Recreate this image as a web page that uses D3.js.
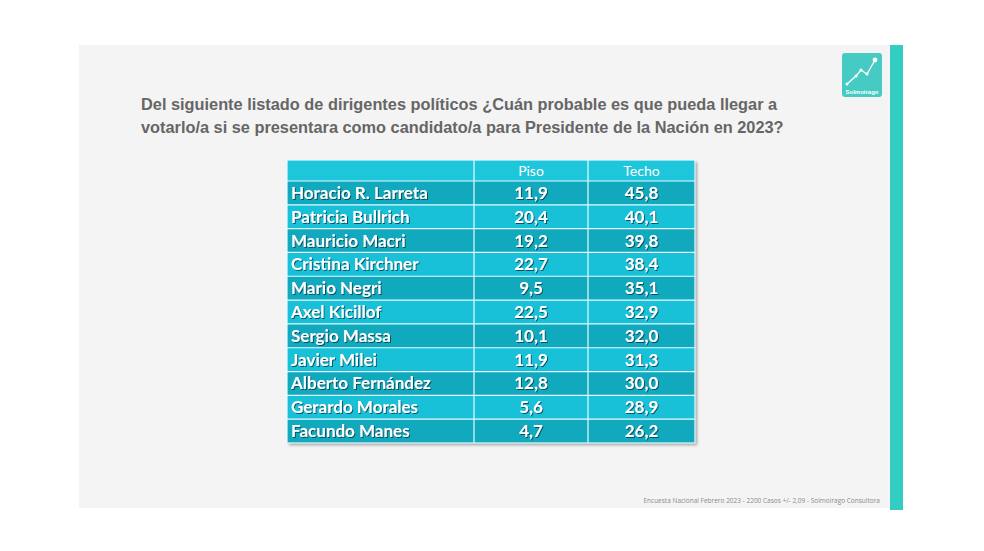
<!DOCTYPE html>
<html><head><meta charset="utf-8">
<script src="https://cdn.jsdelivr.net/npm/d3@7"></script>
<style>html,body{margin:0;padding:0;background:#fff;}svg{display:block;}</style>
</head><body>
<svg id="c" width="984" height="551"></svg>
<script>
const candidates = ["Horacio R. Larreta","Patricia Bullrich","Mauricio Macri","Cristina Kirchner","Mario Negri","Axel Kicillof","Sergio Massa","Javier Milei","Alberto Fernández","Gerardo Morales","Facundo Manes"];
const piso = [11.9,20.4,19.2,22.7,9.5,22.5,10.1,11.9,12.8,5.6,4.7];
const techo = [45.8,40.1,39.8,38.4,35.1,32.9,32.0,31.3,30.0,28.9,26.2];
const columns = ["Piso","Techo"];
const titleLines = ["Del siguiente listado de dirigentes políticos ¿Cuán probable es que pueda llegar a","votarlo/a si se presentara como candidato/a para Presidente de la Nación en 2023?"];
const footer = "Encuesta Nacional Febrero 2023 - 2200 Casos +/- 2,09  - Solmoirago Consultora";

const svg = d3.select("#c");
const fmt = v => d3.format(".1f")(v).replace(".", ",");

// slide panel
svg.append("rect").attr("x",79).attr("y",45).attr("width",812).attr("height",463).attr("fill","#f4f4f4");
svg.append("rect").attr("x",890).attr("y",45).attr("width",13).attr("height",465).attr("fill","#33cdc4");

// logo
const lg = svg.append("g");
lg.append("rect").attr("x",842).attr("y",53).attr("width",40).attr("height",44).attr("rx",3).attr("fill","#45cbc3");
const lpts = [[847,84],[856,76],[861,70],[867,74],[875,60]];
lg.append("path").attr("d",d3.line()(lpts)).attr("fill","none").attr("stroke","#fff").attr("stroke-width",1.3);
lg.selectAll("circle").data(lpts).join("circle").attr("cx",d=>d[0]).attr("cy",d=>d[1]).attr("r",(d,i)=>i===4?2.4:1.5).attr("fill","#fff");
lg.append("text").attr("x",862).attr("y",94).attr("text-anchor","middle").attr("font-family","Liberation Sans, Arial").attr("font-weight","bold").attr("font-size",6).attr("fill","#fff").text("Solmoirago");

// title (slightly condensed like the original)
svg.append("g").attr("transform","translate(141,0) scale(0.95,1)")
  .selectAll("text").data(titleLines).join("text")
  .attr("x",0).attr("y",(d,i)=>110+i*23)
  .attr("font-family","Liberation Sans, Arial").attr("font-weight","bold").attr("font-size",17.2)
  .attr("fill","#666666").text(d=>d);

// table
const tx0 = 287, tx1 = 695, ty0 = 160, headerH = 21, ty1 = 443;
const colEdges = [tx0, 474, 588, tx1];
const y = d3.scaleBand().domain(candidates).range([ty0+headerH, ty1]).padding(0);
const defs = svg.append("defs");
const f = defs.append("filter").attr("id","sh").attr("x","-5%").attr("y","-5%").attr("width","110%").attr("height","115%");
f.append("feDropShadow").attr("dx",2).attr("dy",2).attr("stdDeviation",1.5).attr("flood-color","#000").attr("flood-opacity",0.35);
const tf = defs.append("filter").attr("id","ts").attr("x","-10%").attr("y","-20%").attr("width","120%").attr("height","150%");
tf.append("feDropShadow").attr("dx",1).attr("dy",1).attr("stdDeviation",0.6).attr("flood-color","#003040").attr("flood-opacity",0.75);

const tg = svg.append("g");
tg.append("rect").attr("x",tx0).attr("y",ty0).attr("width",tx1-tx0).attr("height",ty1-ty0).attr("fill","#1cc4da").attr("filter","url(#sh)");
tg.append("rect").attr("x",tx0).attr("y",ty0).attr("width",tx1-tx0).attr("height",headerH).attr("fill","#1ec6dc");
tg.selectAll("rect.row").data(candidates).join("rect").attr("class","row")
  .attr("x",tx0).attr("y",d=>y(d)).attr("width",tx1-tx0).attr("height",y.bandwidth())
  .attr("fill",(d,i)=>i%2===0?"#10a9be":"#19c1d8");
// grid lines
tg.selectAll("line.h").data(candidates).join("line").attr("class","h")
  .attr("x1",tx0).attr("x2",tx1).attr("y1",d=>y(d)).attr("y2",d=>y(d)).attr("stroke","#e6fbff").attr("stroke-width",1.2);
tg.selectAll("line.v").data(colEdges.slice(1,3)).join("line").attr("class","v")
  .attr("x1",d=>d).attr("x2",d=>d).attr("y1",ty0).attr("y2",ty1).attr("stroke","#e6fbff").attr("stroke-width",1.2);
tg.append("rect").attr("x",tx0).attr("y",ty0).attr("width",tx1-tx0).attr("height",ty1-ty0).attr("fill","none").attr("stroke","#e6fbff").attr("stroke-width",1.2);

const font = "Lato, Open Sans, sans-serif";
// header text
tg.selectAll("text.hd").data(columns).join("text").attr("class","hd")
  .attr("x",(d,i)=>(colEdges[i+1]+colEdges[i+2])/2).attr("y",ty0+headerH/2+5)
  .attr("text-anchor","middle").attr("font-family",font).attr("font-size",14)
  .attr("fill","#fff").text(d=>d);

tg.selectAll("text.nm").data(candidates).join("text").attr("class","nm")
  .attr("x",291).attr("y",d=>y(d)+y.bandwidth()/2+6)
  .attr("font-family",font).attr("font-weight","bold").attr("font-size",17)
  .attr("fill","#fff").attr("filter","url(#ts)").text(d=>d);
tg.selectAll("text.ps").data(piso).join("text").attr("class","ps")
  .attr("x",(colEdges[1]+colEdges[2])/2).attr("y",(d,i)=>y(candidates[i])+y.bandwidth()/2+6)
  .attr("text-anchor","middle").attr("font-family",font).attr("font-weight","bold").attr("font-size",17)
  .attr("fill","#fff").attr("filter","url(#ts)").text(d=>fmt(d));
tg.selectAll("text.tc").data(techo).join("text").attr("class","tc")
  .attr("x",(colEdges[2]+colEdges[3])/2).attr("y",(d,i)=>y(candidates[i])+y.bandwidth()/2+6)
  .attr("text-anchor","middle").attr("font-family",font).attr("font-weight","bold").attr("font-size",17)
  .attr("fill","#fff").attr("filter","url(#ts)").text(d=>fmt(d));

// footer
svg.append("text").attr("x",880).attr("y",503).attr("text-anchor","end")
  .attr("font-family","Open Sans, sans-serif").attr("font-size",6.5).attr("fill","#8a8a8a").text(footer);
</script>
</body></html>
